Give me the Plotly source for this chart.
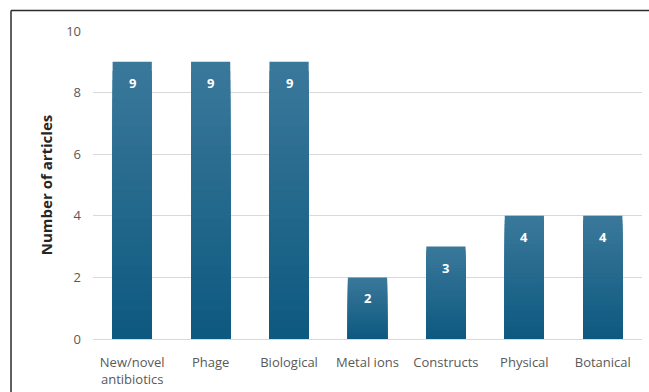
import plotly.graph_objects as go

# Article counts per intervention category
categories = ["New/novel<br>antibiotics", "Phage", "Biological", "Metal ions",
              "Constructs", "Physical", "Botanical"]
articles = [9, 9, 9, 2, 3, 4, 4]
y_ticks = [0, 2, 4, 6, 8, 10]

W, H = 649, 392
M_L, M_R, M_T, M_B = 93, 7, 31, 53

# vertical gradient: light at the top of each bar, dark at the base
top_rgb = (58, 120, 154)
bot_rgb = (14, 89, 128)
K = 30

fig = go.Figure()
for i in range(K):
    frac = (K - i) / K                      # tallest layer first
    t = i / (K - 1)
    c = tuple(round(top_rgb[j] + (bot_rgb[j] - top_rgb[j]) * t) for j in range(3))
    fig.add_trace(go.Bar(
        x=categories,
        y=[v * frac for v in articles],
        marker=dict(color="rgb(%d,%d,%d)" % c, line=dict(width=0)),
        hoverinfo="skip",
        showlegend=False,
    ))

# value labels inside the top of each bar
for cat, v in zip(categories, articles):
    fig.add_annotation(x=cat, y=v, text="<b>%d</b>" % v, showarrow=False, yshift=-21,
                       font=dict(family="Open Sans", size=13, color="white"),
                       xanchor="center", yanchor="middle")

# outer frame (top and left edges)
pw = W - M_L - M_R
ph = H - M_T - M_B
def px_x(p):
    return (p - M_L) / pw
def px_y(p):
    return (H - M_B - p) / ph

frame = dict(color="#2b2b2b", width=1.5)
fig.add_shape(type="line", xref="paper", yref="paper",
              x0=px_x(11), x1=px_x(W + 2), y0=px_y(10.5), y1=px_y(10.5), line=frame)
fig.add_shape(type="line", xref="paper", yref="paper",
              x0=px_x(11), x1=px_x(11), y0=px_y(10.5), y1=px_y(H + 2), line=frame)

fig.update_layout(
    width=W, height=H,
    margin=dict(l=M_L, r=M_R, t=M_T, b=M_B),
    barmode="overlay",
    bargap=0.5,
    paper_bgcolor="white",
    plot_bgcolor="white",
    font=dict(family="Open Sans", color="#595959"),
    xaxis=dict(
        tickfont=dict(size=13, color="#595959"),
        showgrid=False, showline=False, ticks="",
        ticklabelstandoff=14, automargin=False,
        fixedrange=True,
    ),
    yaxis=dict(
        range=[0, 10], tickvals=y_ticks,
        tickfont=dict(size=13, color="#595959"),
        gridcolor="#d9d9d9", gridwidth=1,
        zeroline=True, zerolinecolor="#d9d9d9", zerolinewidth=1,
        showline=False, ticks="", ticklabelstandoff=11, automargin=False,
        title=dict(text="<b>Number of articles</b>", standoff=9,
                   font=dict(size=15, color="#262626")),
    ),
)

fig.write_html("out.html")
